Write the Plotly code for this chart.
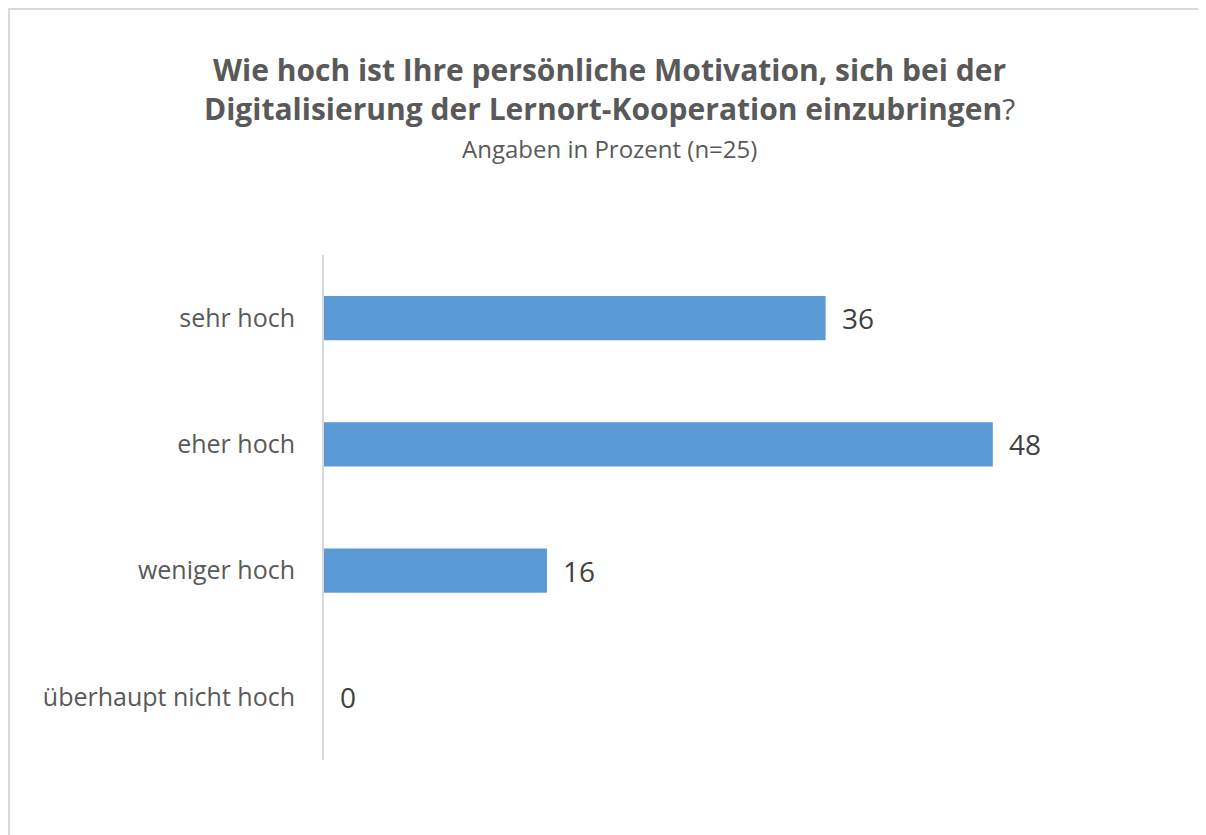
import plotly.graph_objects as go

categories = ["sehr hoch", "eher hoch", "weniger hoch", "überhaupt nicht hoch"]
percent = [36, 48, 16, 0]

title_line1 = "Wie hoch ist Ihre persönliche Motivation, sich bei der"
title_line2 = "Digitalisierung der Lernort-Kooperation einzubringen"
subtitle = "Angaben in Prozent (n=25)"

font_family = "Open Sans, Liberation Sans, sans-serif"
grey = "#595959"

fig = go.Figure()

fig.add_trace(
    go.Bar(
        x=percent,
        y=categories,
        orientation="h",
        marker=dict(color="#5B9BD5", line=dict(width=0)),
        hoverinfo="skip",
    )
)

# value labels next to each bar
for cat, val in zip(categories, percent):
    fig.add_annotation(
        x=val,
        y=cat,
        text=str(val),
        showarrow=False,
        xanchor="left",
        xshift=14,
        font=dict(family=font_family, size=28, color="#404040"),
    )

# title lines and subtitle, placed relative to the top of the plot area
title_x = 0.342
for text, shift, size in [
    (f"<b>{title_line1}</b>", 186, 30),
    (f"<b>{title_line2}</b>?", 147, 30),
    (subtitle, 107, 24),
]:
    fig.add_annotation(
        text=text,
        xref="paper",
        yref="paper",
        x=title_x,
        y=1.0,
        yshift=shift,
        xanchor="center",
        yanchor="middle",
        showarrow=False,
        font=dict(family=font_family, size=size, color=grey),
    )

# outer chart border (only top and left are visible)
fig.add_shape(
    type="rect",
    xref="paper",
    yref="paper",
    x0=-0.3768,
    x1=1.2,
    y0=-0.4,
    y1=1.4871,
    line=dict(color="#d9d9d9", width=2),
    layer="below",
)

fig.update_layout(
    width=1198,
    height=827,
    paper_bgcolor="white",
    plot_bgcolor="white",
    showlegend=False,
    bargap=0.65,
    margin=dict(l=316, r=46, t=247, b=75),
    xaxis=dict(
        range=[0, 60],
        showgrid=False,
        showticklabels=False,
        zeroline=False,
        showline=False,
        fixedrange=True,
    ),
    yaxis=dict(
        categoryorder="array",
        categoryarray=categories[::-1],
        showgrid=False,
        showline=True,
        linecolor="#d9d9d9",
        linewidth=2,
        ticks="",
        ticklabelstandoff=22,
        tickfont=dict(family=font_family, size=25, color=grey),
        fixedrange=True,
    ),
)

fig.write_html("out.html")
